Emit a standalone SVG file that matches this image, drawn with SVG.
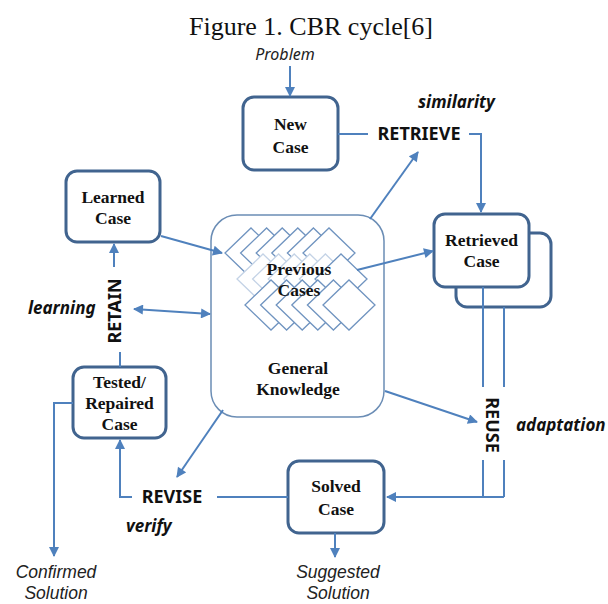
<svg xmlns="http://www.w3.org/2000/svg" width="608" height="604" viewBox="0 0 608 604">
<defs>
<style>
.box{fill:#fff;stroke:#41648f;stroke-width:3}
.gk{fill:#fff;stroke:#6b8db5;stroke-width:1.5}
.c{fill:none;stroke:#4f81bd;stroke-width:2}
.ca{fill:none;stroke:#4f81bd;stroke-width:2;marker-end:url(#ah)}
.bt{font-family:"Liberation Serif","Times New Roman",serif;font-weight:bold;font-size:17.5px;fill:#111;text-anchor:middle}
.lab{font-family:"Noto Sans","Open Sans",sans-serif;font-weight:bold;font-size:18px;fill:#111;text-anchor:middle}
.it{font-family:"Noto Sans","Open Sans",sans-serif;font-weight:bold;font-style:italic;font-size:17px;fill:#111}
.ri{font-family:"Noto Sans","Open Sans",sans-serif;font-style:italic;font-size:16px;fill:#222;text-anchor:middle}
.sol{font-family:"Liberation Sans",Arial,sans-serif;font-style:italic;font-size:17.5px;fill:#222;text-anchor:middle}
.d1{fill:#fff;stroke:#7094c0;stroke-width:1.3}
.d2{fill:#fff;stroke:#c4d3e6;stroke-width:1.3}
</style>
<marker id="ah" viewBox="0 0 10 10" refX="9" refY="5" markerWidth="11" markerHeight="10" markerUnits="userSpaceOnUse" orient="auto">
<path d="M0,0 L10,5 L0,10 Z" fill="#4f81bd"/>
</marker>
<marker id="ahs" viewBox="0 0 10 10" refX="1" refY="5" markerWidth="11" markerHeight="10" markerUnits="userSpaceOnUse" orient="auto">
<path d="M10,0 L0,5 L10,10 Z" fill="#4f81bd"/>
</marker>
<path id="dm" d="M-26,0 L0,-25 L26,0 L0,25 Z"/>
</defs>

<text x="311" y="35" font-family="Liberation Serif,'Times New Roman',serif" font-size="26" text-anchor="middle" fill="#111">Figure 1. CBR cycle[6]</text>

<g id="general-knowledge">
<rect class="gk" x="211" y="215" width="173" height="202" rx="26"/>
<g id="previous-cases">
<use href="#dm" class="d1" x="251" y="253"/>
<use href="#dm" class="d1" x="266.6" y="253"/>
<use href="#dm" class="d1" x="282.2" y="253"/>
<use href="#dm" class="d1" x="297.8" y="253"/>
<use href="#dm" class="d1" x="313.4" y="253"/>
<use href="#dm" class="d1" x="329" y="253"/>
<use href="#dm" class="d2" x="263" y="279"/>
<use href="#dm" class="d2" x="278.6" y="279"/>
<use href="#dm" class="d2" x="294.2" y="279"/>
<use href="#dm" class="d2" x="309.8" y="279"/>
<use href="#dm" class="d2" x="325.4" y="279"/>
<use href="#dm" class="d1" x="341" y="279"/>
<use href="#dm" class="d1" x="271" y="305"/>
<use href="#dm" class="d1" x="286.6" y="305"/>
<use href="#dm" class="d1" x="302.2" y="305"/>
<use href="#dm" class="d1" x="317.8" y="305"/>
<use href="#dm" class="d1" x="333.4" y="305"/>
<use href="#dm" class="d1" x="349" y="305"/>
<text class="bt" x="299" y="275">Previous</text>
<text class="bt" x="299" y="296">Cases</text>
</g>
<text class="bt" x="298" y="374">General</text>
<text class="bt" x="298" y="395">Knowledge</text>
</g>

<g id="new-case">
<rect class="box" x="243" y="97" width="95" height="73" rx="11"/>
<text class="bt" x="290.5" y="130">New</text>
<text class="bt" x="290.5" y="153">Case</text>
</g>

<g id="retrieved-case">
<rect class="box" x="456" y="233" width="95" height="74" rx="11"/>
<rect class="box" x="434" y="214" width="95" height="73" rx="11"/>
<text class="bt" x="481.5" y="246">Retrieved</text>
<text class="bt" x="481.5" y="267">Case</text>
</g>

<g id="solved-case">
<rect class="box" x="288" y="461" width="96" height="72" rx="11"/>
<text class="bt" x="336" y="492">Solved</text>
<text class="bt" x="336" y="515">Case</text>
</g>

<g id="tested-case">
<rect class="box" x="73" y="367" width="93" height="71" rx="11"/>
<text class="bt" x="119.5" y="388">Tested/</text>
<text class="bt" x="119.5" y="409">Repaired</text>
<text class="bt" x="119.5" y="430">Case</text>
</g>

<g id="learned-case">
<rect class="box" x="66" y="171" width="94" height="71" rx="11"/>
<text class="bt" x="113" y="203">Learned</text>
<text class="bt" x="113" y="224">Case</text>
</g>

<g id="connectors">
<path class="ca" d="M290,66 V96"/>
<path class="c" d="M338,134 H368"/>
<path class="ca" d="M469,134 H481 V212"/>
<path class="ca" d="M370,219 L418,152"/>
<path class="ca" d="M357,270 L433,251"/>
<path class="c" d="M483,287 V387 M504,307 V387"/>
<path class="c" d="M483,460 V497 M504,460 V497"/>
<path class="ca" d="M504,497 H387"/>
<path class="ca" d="M385,391 L477,422"/>
<path class="ca" d="M335,533 V557"/>
<path class="c" d="M288,497 H217"/>
<path class="ca" d="M132,497 H120 V440"/>
<path class="ca" d="M223,410 L177,477"/>
<path class="ca" d="M73,403 H54 V556"/>
<path class="c" d="M120,367 V352"/>
<path class="ca" d="M114,267 V244"/>
<path class="ca" d="M161,236 L222,253"/>
<path class="ca" d="M134,309 L210,314" marker-start="url(#ahs)"/>
</g>

<g id="labels">
<text class="ri" x="285" y="60">Problem</text>
<text class="it" x="418" y="108">similarity</text>
<text class="lab" x="419" y="140">RETRIEVE</text>
<text class="lab" transform="translate(492,425) rotate(90)" y="6">REUSE</text>
<text class="it" x="516" y="431">adaptation</text>
<text class="lab" x="172" y="503">REVISE</text>
<text class="it" x="126" y="532">verify</text>
<text class="lab" transform="translate(115,311) rotate(-90)" y="6">RETAIN</text>
<text class="it" x="28" y="314">learning</text>
<text class="sol" x="56" y="578">Confirmed</text>
<text class="sol" x="56" y="599">Solution</text>
<text class="sol" x="338" y="578">Suggested</text>
<text class="sol" x="338" y="599">Solution</text>
</g>
</svg>
